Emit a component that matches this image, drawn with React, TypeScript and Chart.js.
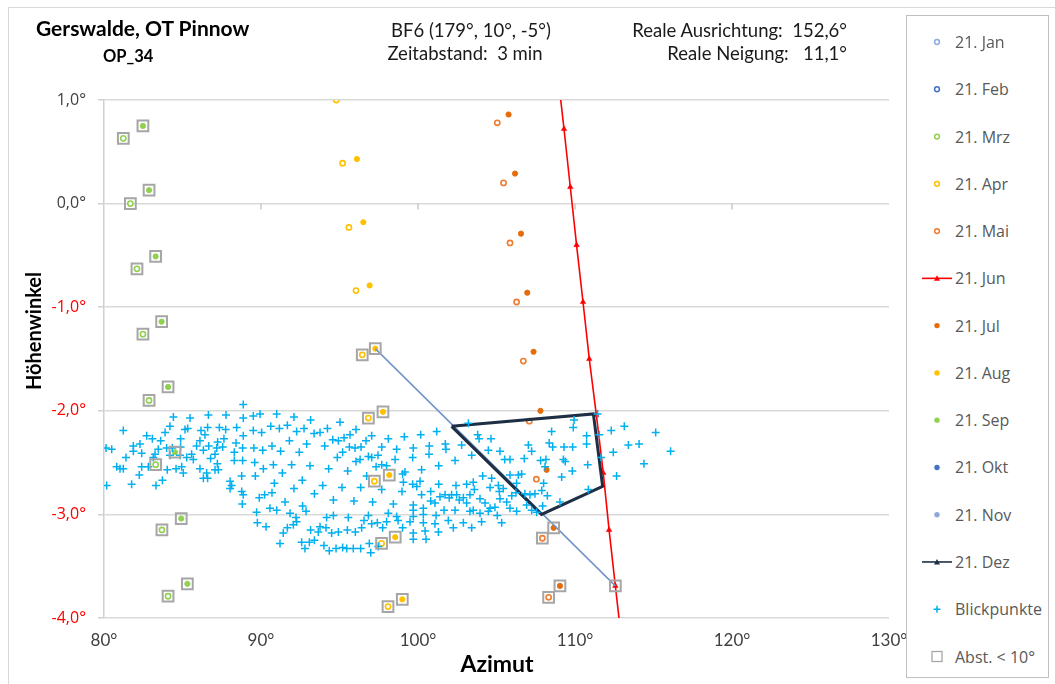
import React, { useEffect, useRef } from 'react';
import { Chart, registerables } from 'chart.js';

Chart.register(...registerables);

type P = [number, number];

// ---- axis ticks ----
const xTickValues: number[] = [80, 90, 100, 110, 120, 130];
const yTickValues: number[] = [1, 0, -1, -2, -3, -4];

// ---- series (azimut °, höhenwinkel °) ----
const seriesLabels: string[] = [
  '21. Jan', '21. Feb', '21. Mrz', '21. Apr', '21. Mai', '21. Jun', '21. Jul',
  '21. Aug', '21. Sep', '21. Okt', '21. Nov', '21. Dez', 'Blickpunkte', 'Abst. < 10°',
];

const jan21: P[] = [];
const feb21: P[] = [];
const mrz21: P[] = [
  [81.23, 0.63], [81.68, 0.0], [82.10, -0.63], [82.48, -1.26], [82.87, -1.9],
  [83.29, -2.52], [83.69, -3.15], [84.08, -3.79],
];
const apr21: P[] = [
  [94.8, 1.0], [95.2, 0.39], [95.6, -0.23], [96.05, -0.84], [96.45, -1.46],
  [96.84, -2.07], [97.22, -2.68], [97.68, -3.28], [98.09, -3.89],
];
const mai21: P[] = [
  [105.05, 0.78], [105.45, 0.2], [105.86, -0.38], [106.28, -0.95], [106.71, -1.52],
  [107.09, -2.1], [107.54, -2.66], [107.92, -3.23], [108.32, -3.8],
];
const jun21: P[] = [
  [108.89, 1.27], [109.3, 0.72], [109.7, 0.16], [110.1, -0.4], [110.51, -0.95],
  [110.91, -1.5], [111.36, -2.04], [111.8, -2.6], [112.17, -3.15], [112.57, -3.69],
  [112.98, -4.24],
];
const jul21: P[] = [
  [105.77, 0.86], [106.18, 0.29], [106.56, -0.29], [106.96, -0.86], [107.36, -1.43],
  [107.8, -2.0], [108.19, -2.57], [108.64, -3.13], [109.04, -3.69],
];
const aug21: P[] = [
  [96.11, 0.43], [96.52, -0.18], [96.92, -0.79], [97.28, -1.4], [97.77, -2.01],
  [98.17, -2.62], [98.55, -3.22], [99.0, -3.82],
];
const sep21: P[] = [
  [82.48, 0.75], [82.87, 0.13], [83.29, -0.51], [83.67, -1.14], [84.08, -1.77],
  [84.52, -2.4], [84.92, -3.04], [85.31, -3.67],
];
const okt21: P[] = [];
const nov21: P[] = [];
const novLine: P[] = [[97.28, -1.4], [112.57, -3.69]];
const dez21: P[] = [
  [102.14, -2.15], [111.17, -2.03], [111.76, -2.73], [107.87, -3.0], [102.14, -2.15],
];
const abst10: P[] = [
  [81.23, 0.63], [81.68, 0.0], [82.10, -0.63], [82.48, -1.26], [82.87, -1.9],
  [83.29, -2.52], [83.69, -3.15], [84.08, -3.79],
  [82.48, 0.75], [82.87, 0.13], [83.29, -0.51], [83.67, -1.14], [84.08, -1.77],
  [84.52, -2.4], [84.92, -3.04], [85.31, -3.67],
  [96.45, -1.46], [96.84, -2.07], [97.22, -2.68], [97.68, -3.28], [98.09, -3.89],
  [97.28, -1.4], [97.77, -2.01], [98.17, -2.62], [98.55, -3.22], [99.0, -3.82],
  [107.92, -3.23], [108.32, -3.8], [108.64, -3.13], [109.04, -3.69], [112.57, -3.69],
];
const blickpunkte: P[] = [
  [88.87, -1.94], [84.42, -2.06], [85.48, -2.07], [86.65, -2.04], [87.77, -2.04], [88.87, -2.07],
  [84.2, -2.15], [81.23, -2.19], [85.16, -2.18], [85.33, -2.17], [86.18, -2.19], [86.6, -2.16],
  [87.35, -2.16], [87.75, -2.18], [88.45, -2.16],
  [83.89, -2.21], [82.72, -2.24], [83.08, -2.27], [83.61, -2.29], [84.88, -2.27], [86.43, -2.23],
  [86.11, -2.29], [87.64, -2.27], [87.24, -2.3], [88.41, -2.31], [88.87, -2.24],
  [81.87, -2.34], [82.29, -2.32], [80.13, -2.36], [80.49, -2.37], [83.46, -2.37], [83.99, -2.36],
  [84.88, -2.35], [84.35, -2.36], [85.9, -2.34], [86.67, -2.34], [87.56, -2.35], [87.18, -2.36],
  [88.83, -2.36],
  [81.87, -2.39], [82.4, -2.41], [83.25, -2.42], [84.84, -2.43], [85.58, -2.42], [85.27, -2.45],
  [86.33, -2.38], [87.07, -2.42], [88.3, -2.4],
  [81.4, -2.45], [83.14, -2.45], [84.2, -2.43], [85.69, -2.47], [86.79, -2.46], [88.3, -2.48],
  [88.83, -2.48],
  [80.81, -2.54], [81.02, -2.56], [81.23, -2.56], [82.4, -2.54], [82.82, -2.54], [84.03, -2.57],
  [84.59, -2.56], [84.95, -2.54], [86.11, -2.56], [86.54, -2.6], [87.07, -2.57], [87.28, -2.57],
  [87.22, -2.51], [88.77, -2.63],
  [82.25, -2.62], [83.72, -2.67], [85.05, -2.6], [86.33, -2.65], [86.6, -2.65], [88.03, -2.68],
  [88.13, -2.72], [88.03, -2.75], [88.77, -2.78], [88.87, -2.81], [88.81, -2.9],
  [80.17, -2.72], [81.76, -2.71], [83.31, -2.72],
  [89.51, -2.05], [89.94, -2.03], [91.0, -2.03], [92.1, -2.06], [93.16, -2.09], [95.03, -2.11],
  [89.51, -2.19], [90.04, -2.21], [90.62, -2.15], [91.17, -2.17], [91.68, -2.14], [92.27, -2.2],
  [92.74, -2.17], [93.38, -2.22], [93.76, -2.21], [94.23, -2.17], [94.57, -2.28], [94.93, -2.29],
  [95.29, -2.26], [95.67, -2.23], [96.05, -2.18], [97.05, -2.24], [98.11, -2.27], [99.13, -2.25],
  [89.55, -2.36], [90.11, -2.38], [90.7, -2.34], [91.25, -2.39], [91.81, -2.29], [92.44, -2.4],
  [92.91, -2.32], [94.06, -2.34], [94.86, -2.45], [95.2, -2.4], [95.63, -2.35], [95.99, -2.36],
  [96.37, -2.35], [96.69, -2.29], [97.45, -2.43], [97.69, -2.35], [98.64, -2.37],
  [89.6, -2.5], [90.15, -2.56], [90.79, -2.52], [91.36, -2.6], [91.95, -2.52], [93.12, -2.53],
  [94.31, -2.56], [95.52, -2.58], [96.05, -2.49], [96.31, -2.47], [96.84, -2.44], [97.05, -2.45],
  [97.33, -2.54], [97.69, -2.52], [98.0, -2.53], [98.54, -2.47], [99.02, -2.61], [99.17, -2.59],
  [89.64, -2.63], [90.85, -2.7], [92.1, -2.75], [92.63, -2.67], [93.93, -2.72], [95.16, -2.74],
  [96.35, -2.74], [96.73, -2.63], [97.69, -2.76], [99.07, -2.69], [99.92, -2.73],
  [90.23, -2.81], [89.89, -2.84], [90.7, -2.79], [91.53, -2.88], [92.65, -2.92], [93.4, -2.8],
  [94.61, -2.86], [95.92, -2.87], [97.11, -2.88], [98.43, -2.9], [98.98, -2.78], [99.7, -2.96],
  [89.72, -2.98], [90.57, -2.94], [91.0, -2.96], [91.85, -2.99], [92.23, -3.03], [92.87, -2.97],
  [94.18, -3.03], [94.61, -3.01], [95.56, -3.03], [96.84, -3.01], [98.11, -2.99], [98.64, -3.02],
  [89.77, -3.08], [90.32, -3.12], [91.42, -3.18], [91.68, -3.13], [92.06, -3.1], [92.27, -3.07],
  [93.16, -3.15], [93.76, -3.12], [93.65, -3.17], [94.14, -3.13], [94.5, -3.18], [94.93, -3.17],
  [95.5, -3.15], [96.01, -3.17], [96.41, -3.13], [96.56, -3.06], [97.05, -3.09], [97.41, -3.08],
  [97.75, -3.13], [98.0, -3.07], [98.73, -3.06], [99.49, -3.07], [99.02, -3.13],
  [91.21, -3.28], [92.59, -3.27], [92.8, -3.33], [93.08, -3.27], [93.4, -3.25], [94.01, -3.3],
  [94.35, -3.35], [94.78, -3.33], [95.2, -3.32], [95.46, -3.33], [95.88, -3.33], [96.35, -3.33],
  [96.9, -3.28], [96.99, -3.37], [97.47, -3.31],
  [103.21, -2.12], [100.17, -2.23], [101.19, -2.2], [101.74, -2.32], [101.78, -2.37], [100.72, -2.34],
  [99.7, -2.36], [99.66, -2.45], [100.7, -2.42], [101.32, -2.53], [102.36, -2.48], [102.78, -2.33],
  [103.42, -2.43], [103.8, -2.23], [103.89, -2.27], [104.65, -2.27], [104.48, -2.38], [105.22, -2.39],
  [105.52, -2.47], [105.86, -2.47], [106.77, -2.46], [107.03, -2.33], [107.24, -2.39], [107.81, -2.48],
  [108.15, -2.47], [108.36, -2.31], [108.58, -2.35], [108.51, -2.2], [108.09, -2.54], [108.0, -2.7],
  [108.24, -2.82],
  [100.23, -2.57], [99.66, -2.71], [100.13, -2.68], [100.81, -2.78], [100.23, -2.81], [101.32, -2.71],
  [102.42, -2.72], [103.1, -2.71], [103.52, -2.69], [103.59, -2.76], [104.12, -2.63], [104.69, -2.65],
  [104.59, -2.74], [105.12, -2.72], [105.18, -2.78], [105.43, -2.75], [105.86, -2.62], [106.28, -2.7],
  [106.39, -2.62], [106.6, -2.61], [106.24, -2.79], [105.97, -2.82], [106.81, -2.8], [107.13, -2.81],
  [107.45, -2.8], [107.88, -2.77],
  [99.7, -2.91], [100.34, -2.94], [100.81, -2.87], [101.08, -2.89], [101.4, -2.83], [101.72, -2.81],
  [101.99, -2.84], [102.14, -2.81], [102.46, -2.81], [102.63, -2.86], [102.89, -2.84], [103.1, -2.89],
  [103.31, -2.81], [103.52, -2.96], [103.95, -2.85], [104.27, -2.89], [104.59, -2.94], [104.9, -2.93],
  [105.22, -2.85], [105.65, -2.88], [105.86, -2.94], [106.28, -2.97], [106.92, -2.91], [107.24, -2.96],
  [107.56, -2.98],
  [100.34, -3.0], [99.7, -3.02], [101.15, -3.01], [101.66, -2.96], [102.36, -2.96], [103.31, -2.97],
  [103.95, -2.99], [104.48, -2.97], [105.05, -3.01],
  [100.34, -3.08], [101.08, -3.09], [101.93, -3.06], [102.89, -3.08], [104.05, -3.07], [105.33, -3.08],
  [99.7, -3.18], [100.45, -3.16], [101.3, -3.17], [102.25, -3.13], [103.42, -3.13],
  [99.7, -3.24], [100.51, -3.24],
  [111.44, -2.03], [109.94, -2.09], [109.89, -2.16], [110.74, -2.24], [110.74, -2.32], [109.3, -2.35],
  [109.85, -2.35], [111.55, -2.23], [112.31, -2.19], [113.14, -2.15], [115.14, -2.21], [113.4, -2.33],
  [114.08, -2.32], [116.09, -2.39], [112.44, -2.4], [111.66, -2.45], [109.26, -2.47], [109.38, -2.49],
  [110.81, -2.52], [109.83, -2.58], [114.39, -2.51], [109.15, -2.64], [112.65, -2.63], [109.04, -2.88],
  [107.94, -2.92], [110.85, -2.76],
];

// ---- colours ----
const C = {
  jan: '#8eaadb', feb: '#4472c4', green: '#92d050', yellow: '#ffc000', maiOrange: '#ed7d31',
  julOrange: '#e46c0a', red: '#ff0000', okt: '#4472c4', nov: '#8eaadb', dez: '#1e2f45',
  blick: '#00b0f0', abst: '#a6a6a6', novLine: '#6e93c9',
};

const toXY = (a: P[]) => a.map(([x, y]) => ({ x, y }));

const fmtY = (v: number) => v.toFixed(1).replace('.', ',') + '°';

const xTickMarksPlugin = {
  id: 'xTickMarksAtZero',
  beforeDatasetsDraw(chart: any) {
    const { ctx, scales } = chart;
    const x = scales.x;
    const y = scales.y;
    const y0 = y.getPixelForValue(0);
    ctx.save();
    ctx.strokeStyle = '#c8c8c8';
    ctx.lineWidth = 1.5;
    xTickValues.forEach((v) => {
      if (v === 80 || v === 130) return;
      const px = x.getPixelForValue(v);
      ctx.beginPath();
      ctx.moveTo(px, y0);
      ctx.lineTo(px, y0 + 6);
      ctx.stroke();
    });
    ctx.restore();
  },
};

function pointDs(label: string, data: P[], color: string, open: boolean, order: number) {
  return {
    label,
    data: toXY(data),
    showLine: false,
    pointStyle: 'circle',
    pointRadius: 2.6,
    pointBackgroundColor: open ? '#ffffff' : color,
    pointBorderColor: color,
    pointBorderWidth: open ? 1.6 : 1,
    order,
  };
}

const T = ({ x, y, a = 'left', s, children }: any) => {
  const tx = a === 'left' ? '0' : a === 'center' ? '-50%' : '-100%';
  return (
    <div
      style={{
        position: 'absolute', left: x, top: y, transform: `translate(${tx}, -50%)`,
        whiteSpace: 'pre', lineHeight: 1, ...s,
      }}
    >
      {children}
    </div>
  );
};

type LegendKind = 'open' | 'filled' | 'line' | 'cross' | 'square';
const legendKinds: [LegendKind, string][] = [
  ['open', C.jan], ['open', C.feb], ['open', C.green], ['open', C.yellow], ['open', C.maiOrange],
  ['line', C.red], ['filled', C.julOrange], ['filled', C.yellow], ['filled', C.green],
  ['filled', C.okt], ['filled', C.nov], ['line', C.dez], ['cross', C.blick], ['square', C.abst],
];

function LegendBox() {
  const top = 15;
  const rowY = (i: number) => 42 + i * 47.27 - top;
  return (
    <div
      style={{
        position: 'absolute', left: 906, top, width: 143, height: 663,
        border: '1px solid #bfbfbf', boxSizing: 'border-box', background: '#fff',
      }}
    >
      <svg width={143} height={663} style={{ position: 'absolute', left: -1, top: -1 }}>
        {legendKinds.map(([k, col], i) => {
          const cx = 31;
          const cy = rowY(i);
          if (k === 'open') return <circle key={i} cx={cx} cy={cy} r={2.4} fill="#fff" stroke={col} strokeWidth={1.5} />;
          if (k === 'filled') return <circle key={i} cx={cx} cy={cy} r={2.7} fill={col} />;
          if (k === 'line')
            return (
              <g key={i}>
                <line x1={16} y1={cy} x2={46} y2={cy} stroke={col} strokeWidth={1.6} />
                <polygon points={`${cx - 3},${cy + 2.5} ${cx + 3},${cy + 2.5} ${cx},${cy - 3}`} fill={col} />
              </g>
            );
          if (k === 'cross')
            return (
              <g key={i} stroke={col} strokeWidth={1.5}>
                <line x1={cx - 3.5} y1={cy} x2={cx + 3.5} y2={cy} />
                <line x1={cx} y1={cy - 3.5} x2={cx} y2={cy + 3.5} />
              </g>
            );
          return <rect key={i} x={cx - 5} y={cy - 5} width={10} height={10} fill="none" stroke={col} strokeWidth={1.3} />;
        })}
      </svg>
      {seriesLabels.map((l, i) => (
        <T key={l} x={48} y={rowY(i) - 1} s={{ fontFamily: '"Open Sans"', fontSize: 16, color: '#595959' }}>
          {l}
        </T>
      ))}
    </div>
  );
}

export default function App() {
  const ref = useRef<HTMLCanvasElement | null>(null);

  useEffect(() => {
    if (!ref.current) return;
    const n = 20;
    const chart = new Chart(ref.current, {
      type: 'scatter',
      data: {
        datasets: [
          pointDs(seriesLabels[0], jan21, C.jan, true, n - 0),
          pointDs(seriesLabels[1], feb21, C.feb, true, n - 1),
          pointDs(seriesLabels[2], mrz21, C.green, true, n - 2),
          pointDs(seriesLabels[3], apr21, C.yellow, true, n - 3),
          pointDs(seriesLabels[4], mai21, C.maiOrange, true, n - 4),
          {
            label: seriesLabels[5], data: toXY(jun21), showLine: true, borderColor: C.red,
            borderWidth: 1.6, pointStyle: 'triangle', pointRadius: 3.2,
            pointBackgroundColor: C.red, pointBorderColor: C.red, pointBorderWidth: 0.5,
            clip: 0, order: n - 5,
          } as any,
          pointDs(seriesLabels[6], jul21, C.julOrange, false, n - 6),
          pointDs(seriesLabels[7], aug21, C.yellow, false, n - 7),
          pointDs(seriesLabels[8], sep21, C.green, false, n - 8),
          pointDs(seriesLabels[9], okt21, C.okt, false, n - 9),
          pointDs(seriesLabels[10], nov21, C.nov, false, n - 10),
          {
            label: 'Nov-Linie', data: toXY(novLine), showLine: true, borderColor: C.novLine,
            borderWidth: 1.5, pointRadius: 0, order: n - 10.5,
          } as any,
          {
            label: seriesLabels[11], data: toXY(dez21), showLine: true, borderColor: C.dez,
            borderWidth: 3, pointRadius: 0, borderJoinStyle: 'miter', order: n - 11,
          } as any,
          {
            label: seriesLabels[12], data: toXY(blickpunkte), showLine: false, pointStyle: 'cross',
            pointRadius: 4, pointBorderColor: C.blick, pointBorderWidth: 1.5, order: n - 12,
          } as any,
          {
            label: seriesLabels[13], data: toXY(abst10), showLine: false, pointStyle: 'rect',
            pointRadius: 7.6, pointBackgroundColor: 'rgba(0,0,0,0)', pointBorderColor: C.abst,
            pointBorderWidth: 2, order: n - 13,
          } as any,
        ],
      },
      options: {
        responsive: false,
        animation: false,
        events: [],
        layout: { padding: { left: 0, top: 100, right: 17, bottom: 0 } },
        plugins: { legend: { display: false }, tooltip: { enabled: false }, title: { display: false } },
        scales: {
          x: {
            type: 'linear',
            min: 80,
            max: 130,
            afterBuildTicks: (s: any) => { s.ticks = xTickValues.map((v) => ({ value: v })); },
            afterFit: (s: any) => { s.height = 66; s.paddingLeft = 0; s.paddingRight = 0; },
            ticks: {
              callback: (v: any) => `${v}°`,
              font: { family: 'Lato', size: 17 },
              color: '#404040',
              padding: 12,
              maxRotation: 0,
            },
            grid: { display: false, drawTicks: false },
            border: { display: false },
          },
          y: {
            type: 'linear',
            min: -4,
            max: 1,
            afterBuildTicks: (s: any) => { s.ticks = yTickValues.map((v) => ({ value: v })); },
            afterFit: (s: any) => { s.width = 104; s.paddingTop = 0; s.paddingBottom = 0; },
            ticks: {
              callback: (v: any) => fmtY(Number(v)),
              font: { family: '"Open Sans"', size: 16 },
              color: (c: any) => (c.tick && c.tick.value < 0 ? '#ff0000' : '#404040'),
              padding: 12,
            },
            grid: { color: '#d9d9d9', lineWidth: 1.5, tickLength: 6, tickColor: '#d0d0d0' },
            border: { display: true, color: '#d0d0d0', width: 1.5 },
          },
        },
      } as any,
      plugins: [xTickMarksPlugin],
    });
    return () => chart.destroy();
  }, []);

  const hdr = { fontFamily: 'Lato', fontSize: 18.5, color: '#1a1a1a' };

  return (
    <div style={{ position: 'fixed', left: 0, top: 0, width: 1055, height: 684, overflow: 'hidden', background: '#fff' }}>
      <div
        style={{
          position: 'absolute', left: 8, top: 7, width: 1100, height: 700,
          border: '1px solid #d9d9d9', boxSizing: 'border-box',
        }}
      />
      <canvas ref={ref} width={906} height={684} style={{ position: 'absolute', left: 0, top: 0 }} />
      <T x={36} y={27} s={{ fontFamily: 'Lato', fontWeight: 700, fontSize: 21, color: '#000' }}>Gerswalde, OT Pinnow</T>
      <T x={103} y={56} s={{ fontFamily: 'Lato', fontWeight: 700, fontSize: 16.5, color: '#000' }}>OP_34</T>
      <T x={471} y={30} a="center" s={hdr}>BF6 (179°, 10°, -5°)</T>
      <T x={465} y={53} a="center" s={hdr}>Zeitabstand:  3 min</T>
      <T x={847} y={30} a="right" s={hdr}>Reale Ausrichtung:  152,6°</T>
      <T x={847} y={53} a="right" s={hdr}>Reale Neigung:   11,1°</T>
      <div
        style={{
          position: 'absolute', left: 33, top: 331, transform: 'translate(-50%, -50%) rotate(-90deg)',
          fontFamily: 'Lato', fontWeight: 700, fontSize: 20, whiteSpace: 'pre', lineHeight: 1, color: '#000',
        }}
      >
        Höhenwinkel
      </div>
      <T x={497} y={663} a="center" s={{ fontFamily: 'Lato', fontWeight: 700, fontSize: 23, color: '#000' }}>Azimut</T>
      <LegendBox />
    </div>
  );
}
